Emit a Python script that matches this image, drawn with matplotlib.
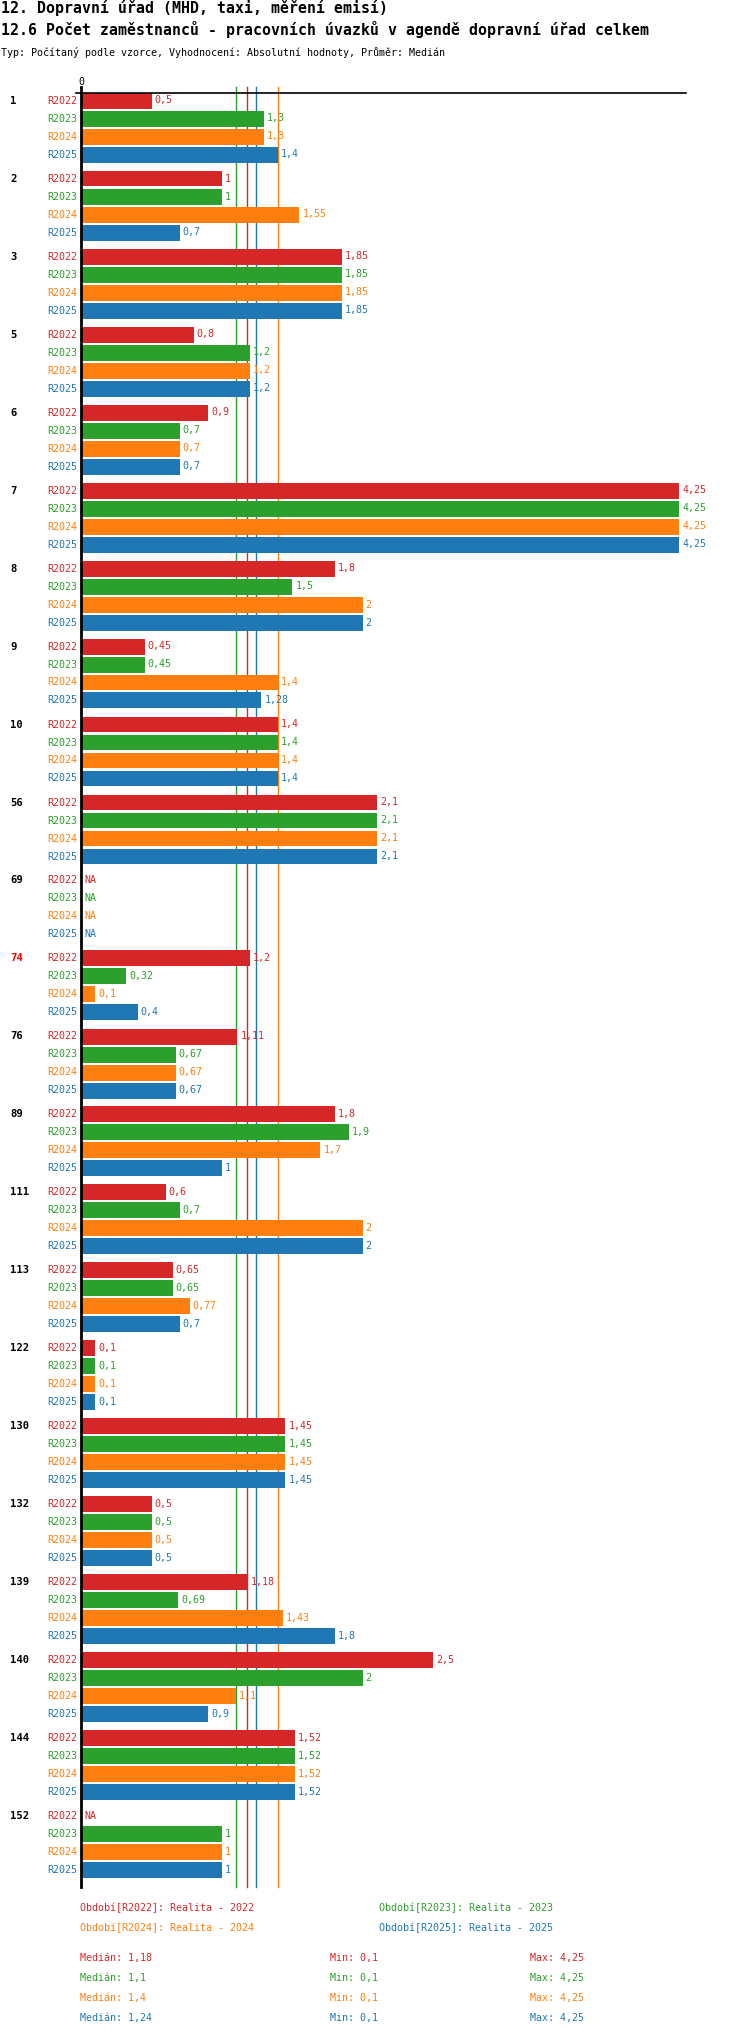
import matplotlib
matplotlib.use('Agg')
import matplotlib.pyplot as plt
import matplotlib.transforms as mtransforms
import numpy as np

plt.rcParams['font.family'] = ['DejaVu Sans Mono']

# data (np.nan = NA)
groups = ['1', '2', '3', '5', '6', '7', '8', '9', '10', '56', '69', '74',
          '76', '89', '111', '113', '122', '130', '132', '139', '140', '144', '152']
highlight = '74'
periods = ['R2022', 'R2023', 'R2024', 'R2025']
colors = ['#d62728', '#2ca02c', '#ff7f0e', '#1f77b4']
legend_names = ['Realita - 2022', 'Realita - 2023', 'Realita - 2024', 'Realita - 2025']

NA = np.nan
r2022 = [0.5, 1, 1.85, 0.8, 0.9, 4.25, 1.8, 0.45, 1.4, 2.1, NA, 1.2,
         1.11, 1.8, 0.6, 0.65, 0.1, 1.45, 0.5, 1.18, 2.5, 1.52, NA]
r2023 = [1.3, 1, 1.85, 1.2, 0.7, 4.25, 1.5, 0.45, 1.4, 2.1, NA, 0.32,
         0.67, 1.9, 0.7, 0.65, 0.1, 1.45, 0.5, 0.69, 2, 1.52, 1]
r2024 = [1.3, 1.55, 1.85, 1.2, 0.7, 4.25, 2, 1.4, 1.4, 2.1, NA, 0.1,
         0.67, 1.7, 2, 0.77, 0.1, 1.45, 0.5, 1.43, 1.1, 1.52, 1]
r2025 = [1.4, 0.7, 1.85, 1.2, 0.7, 4.25, 2, 1.28, 1.4, 2.1, NA, 0.4,
         0.67, 1, 2, 0.7, 0.1, 1.45, 0.5, 1.8, 0.9, 1.52, 1]
series = [r2022, r2023, r2024, r2025]


def fmt(v):
    return f"{round(v, 2):g}".replace('.', ',')


W, H = 750, 2036
fig = plt.figure(figsize=(W / 100, H / 100), dpi=100)

# layout in pixels
ax_left, ax_right = 76.3, 686.3
ax_top, ax_bottom = 92.7, 1887
ax = fig.add_axes([ax_left / W, 1 - ax_bottom / H,
                   (ax_right - ax_left) / W, (ax_bottom - ax_top) / H])

unit = 140.7  # px per value unit
row_px = 18
group_rows = 78 / row_px
first_center = 100.5

ax.set_xlim(-(81.3 - ax_left) / unit, (ax_right - 81.3) / unit)
ax.set_ylim((ax_bottom - first_center) / row_px, (ax_top - first_center) / row_px)

for s in ['left', 'right', 'bottom']:
    ax.spines[s].set_visible(False)
ax.spines['top'].set_linewidth(1.2)
ax.set_yticks([])
ax.set_xticks([0])
ax.set_xticklabels(['0'])
ax.xaxis.tick_top()
ax.tick_params(axis='x', length=0, pad=4, labelsize=7.2)

over = 1 + 6 / (ax_bottom - ax_top)

# median lines (behind bars)
medians = [np.nanmedian(s) for s in series]
for med, c in zip(medians, colors):
    ax.axvline(med, ymin=0, ymax=over, color=c, lw=1, clip_on=False, zorder=1)
ax.axvline(0, ymin=0, ymax=over, color='black', lw=2, clip_on=False, zorder=3)

pt = 0.72  # points per pixel
blend = mtransforms.blended_transform_factory(fig.transFigure, ax.transData)

for g, name in enumerate(groups):
    base = g * group_rows
    ax.text(10 / W, base, name, transform=blend, ha='left', va='center',
            fontsize=7.6, fontweight='bold',
            color='red' if name == highlight else 'black')
    for b, (vals, c, per) in enumerate(zip(series, colors, periods)):
        y = base + b
        v = vals[g]
        ax.annotate(per, (0, y), xytext=(-4 * pt, 0), textcoords='offset points',
                    ha='right', va='center', fontsize=7.2, color=c)
        if np.isnan(v):
            ax.annotate('NA', (0, y), xytext=(3 * pt, 0), textcoords='offset points',
                        ha='left', va='center', fontsize=7.2, color=c)
            continue
        ax.barh(y, v, height=16 / row_px, color=c, zorder=2)
        ax.annotate(fmt(v), (v, y), xytext=(3 * pt, 0), textcoords='offset points',
                    ha='left', va='center', fontsize=7.2, color=c)

# titles
fig.text(1 / W, 1 - 8 / H, '12. Dopravní úřad (MHD, taxi, měření emisí)',
         ha='left', va='center', fontsize=10.7, fontweight='bold')
fig.text(1 / W, 1 - 30 / H,
         '12.6 Počet zaměstnanců - pracovních úvazků v agendě dopravní úřad celkem',
         ha='left', va='center', fontsize=10.7, fontweight='bold')
fig.text(1 / W, 1 - 52 / H,
         'Typ: Počítaný podle vzorce, Vyhodnocení: Absolutní hodnoty, Průměr: Medián',
         ha='left', va='center', fontsize=7.2)

# period legend
leg_x = [80, 379, 80, 379]
leg_y = [1908, 1908, 1928, 1928]
for per, nm, c, lx, ly in zip(periods, legend_names, colors, leg_x, leg_y):
    fig.text(lx / W, 1 - ly / H, f'Období[{per}]: {nm}', ha='left', va='center',
             fontsize=7.2, color=c)

# statistics
for i, (vals, c) in enumerate(zip(series, colors)):
    y = 1 - (1958 + 20 * i) / H
    fig.text(80 / W, y, f'Medián: {fmt(np.nanmedian(vals))}', ha='left', va='center',
             fontsize=7.2, color=c)
    fig.text(330 / W, y, f'Min: {fmt(np.nanmin(vals))}', ha='left', va='center',
             fontsize=7.2, color=c)
    fig.text(530 / W, y, f'Max: {fmt(np.nanmax(vals))}', ha='left', va='center',
             fontsize=7.2, color=c)

fig.savefig('out.png', dpi=100)
